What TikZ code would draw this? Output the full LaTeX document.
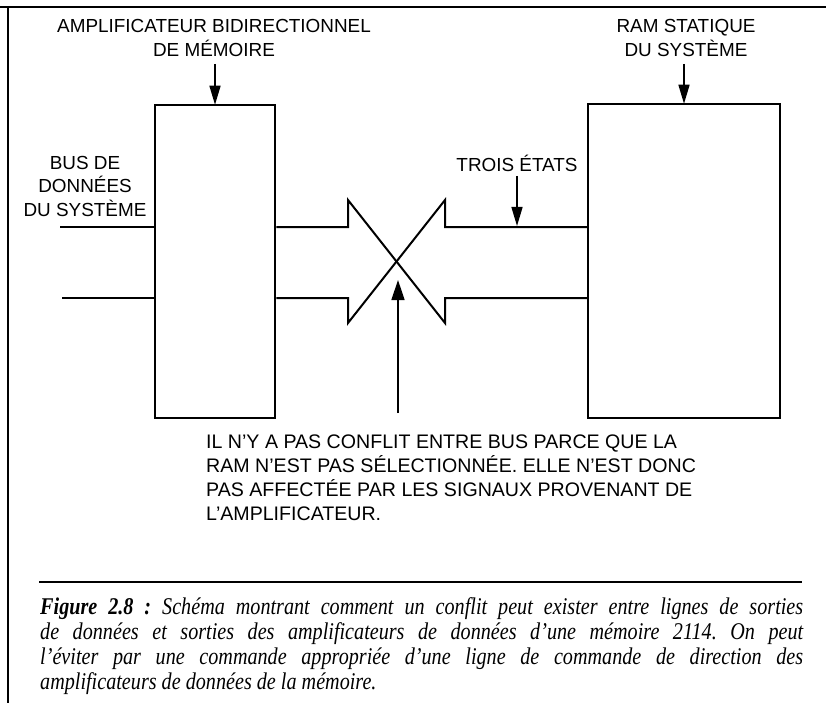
\documentclass[tikz,border=0pt]{standalone}
\usepackage{fontspec}
\setmainfont{Liberation Serif}
\newfontfamily\labelfont[Ligatures=TeX]{Liberation Sans}
\newfontfamily\capfam[Ligatures=TeX,FakeStretch=0.84]{Liberation Serif}
\usetikzlibrary{arrows.meta}
\frenchspacing
\begin{document}
\begin{tikzpicture}[x=1pt,y=-1pt,
  box/.style={draw, line width=2.5pt, inner sep=0pt},
  bus/.style={line width=2pt, line join=miter},
  arr/.style={line width=1.5pt, -{Triangle[length=19pt,width=11pt]}},
  lbl/.style={inner sep=0pt, font=\labelfont\fontsize{18.9}{24}\selectfont},
  notefont/.style={inner sep=0pt, font=\labelfont\fontsize{19.6}{24}\selectfont},
  capfont/.style={inner sep=0pt, font=\capfam\fontsize{24}{25}\selectfont\itshape}]
\useasboundingbox (0,0) rectangle (826,703);
% frame
\draw[line width=2pt] (0,7) -- (826,7);
\draw[line width=2pt] (8,7) -- (8,703);
% boxes
\node[box, minimum width=120pt, minimum height=313pt] (amp) at (215,261.5) {};
\node[box, minimum width=192pt, minimum height=314pt] (ram) at (684,261) {};
% top labels
\node[lbl, anchor=base] (ampt) at (214,32.5)
  {\begin{tabular}[t]{@{}c@{}}AMPLIFICATEUR BIDIRECTIONNEL\\DE MÉMOIRE\end{tabular}};
\node[lbl, anchor=base] (ramt) at (686,32.5)
  {\begin{tabular}[t]{@{}c@{}}RAM STATIQUE\\DU SYSTÈME\end{tabular}};
\draw[arr] (ampt.south -| amp.north) -- ([yshift=-1pt]amp.north);
\draw[arr] (ramt.south -| ram.north) -- ([yshift=-1pt]ram.north);
% bus label
\node[lbl, anchor=base, font=\labelfont\fontsize{18.9}{23.5}\selectfont] (bust) at (85,169.5)
  {\begin{tabular}[t]{@{}c@{}}BUS DE\\DONNÉES\\DU SYSTÈME\end{tabular}};
\coordinate (busA) at (60,227);
\coordinate (busB) at (62,298);
\draw[bus] (busA) -- (busA -| amp.west);
\draw[bus] (busB) -- (busB -| amp.west);
% crossing arrows
\coordinate (lA) at (348,227); \coordinate (lB) at (348,298);
\coordinate (rA) at (445,227); \coordinate (rB) at (445,298);
\draw[bus] (amp.east |- busA) -- (lA) -- (348,200) -- (445,323) -- (rB) -- (ram.west |- busB);
\draw[bus] (amp.east |- busB) -- (lB) -- (348,323) -- (445,200) -- (rA) -- (ram.west |- busA);
% trois etats
\node[lbl, anchor=base] (tro) at (517,171.5) {TROIS ÉTATS};
\coordinate (triT) at (517,226);
\draw[arr] (tro.south) ++(0,4) -- (triT);
% note arrow
\coordinate (nbase) at (398,413);
\coordinate (ntip) at (398,280);
\draw[line width=1.5pt, -{Triangle[length=20pt,width=13pt]}] (nbase) -- (ntip);
\node[notefont, anchor=base west] (note) at (206,448)
  {\begin{tabular}[t]{@{}l@{}}IL N'Y A PAS CONFLIT ENTRE BUS PARCE QUE LA\\
   RAM N'EST PAS SÉLECTIONNÉE. ELLE N'EST DONC\\
   PAS AFFECTÉE PAR LES SIGNAUX PROVENANT DE\\
   L'AMPLIFICATEUR.\end{tabular}};
% caption
\draw[line width=2pt] (39,582) -- (802,582);
\node[capfont, anchor=base west] (cap) at (40,614)
  {\begin{tabular}[t]{@{}l@{}}\makebox[763pt][s]{\textbf{Figure 2.8 :} Schéma montrant comment un conflit peut exister entre lignes de sorties}\\
  \makebox[763pt][s]{de données et sorties des amplificateurs de données d'une mémoire 2114. On peut}\\
  \makebox[763pt][s]{l'éviter par une commande appropriée d'une ligne de commande de direction des}\\
  amplificateurs de données de la mémoire.\end{tabular}};
\end{tikzpicture}
\end{document}
